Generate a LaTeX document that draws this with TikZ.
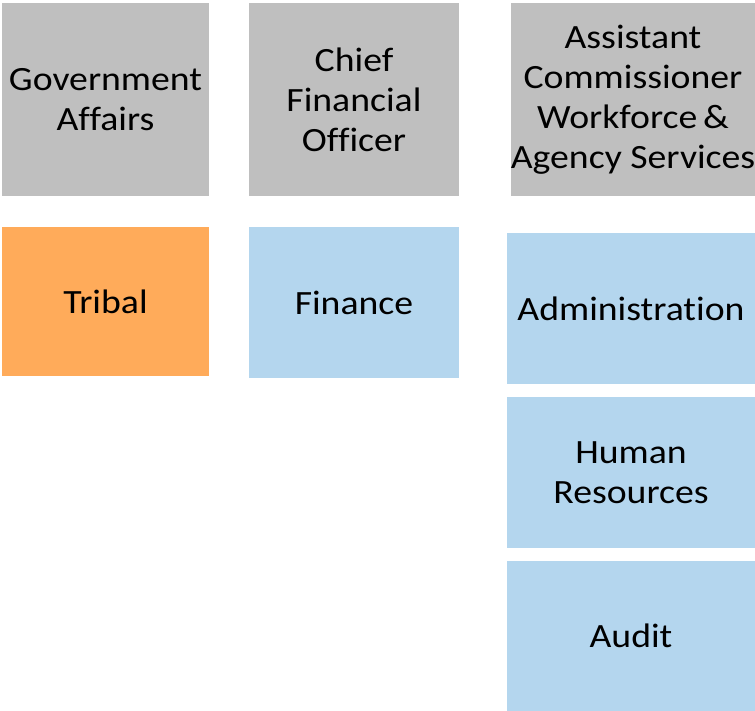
\documentclass[tikz,border=0pt]{standalone}
\usepackage{fontspec}
\setmainfont{Carlito}[FakeStretch=1.11, Ligatures={NoCommon}]
\definecolor{boxgray}{HTML}{BFBFBF}
\definecolor{boxorange}{HTML}{FFAB5A}
\definecolor{boxblue}{HTML}{B4D6EE}
\tikzset{
  orgbox/.style={inner sep=0pt, align=center, font=\fontsize{34}{40}\selectfont, text=black},
  headbox/.style={orgbox, fill=boxgray},
  tribalbox/.style={orgbox, fill=boxorange},
  unitbox/.style={orgbox, fill=boxblue}
}
\begin{document}
\begin{tikzpicture}[x=1pt,y=1pt]
\useasboundingbox[fill=white] (0,0) rectangle (755,-711);
\node[headbox, minimum width=207pt, minimum height=193pt] (gov) at (105.5,-99.5) {Government\\Affairs};
\node[headbox, minimum width=210pt, minimum height=193pt] (cfo) at (354,-99.5) {Chief\\Financial\\Officer};
\node[headbox, minimum width=244pt, minimum height=193pt] (ac) at (633,-99.5) {Assistant\\Commissioner\\Workforce\,\&\\Agency Services};
\node[tribalbox, minimum width=207pt, minimum height=149pt] (tribal) at (105.5,-301.5) {Tribal};
\node[unitbox, minimum width=210pt, minimum height=151pt] (fin) at (354,-302.5) {Finance};
\node[unitbox, minimum width=248pt, minimum height=151pt] (adm) at (631,-308.5) {Administration};
\node[unitbox, minimum width=248pt, minimum height=151pt] (hr) at (631,-472.5) {Human\\Resources};
\node[unitbox, minimum width=248pt, minimum height=150pt] (aud) at (631,-636) {Audit};
\end{tikzpicture}
\end{document}
